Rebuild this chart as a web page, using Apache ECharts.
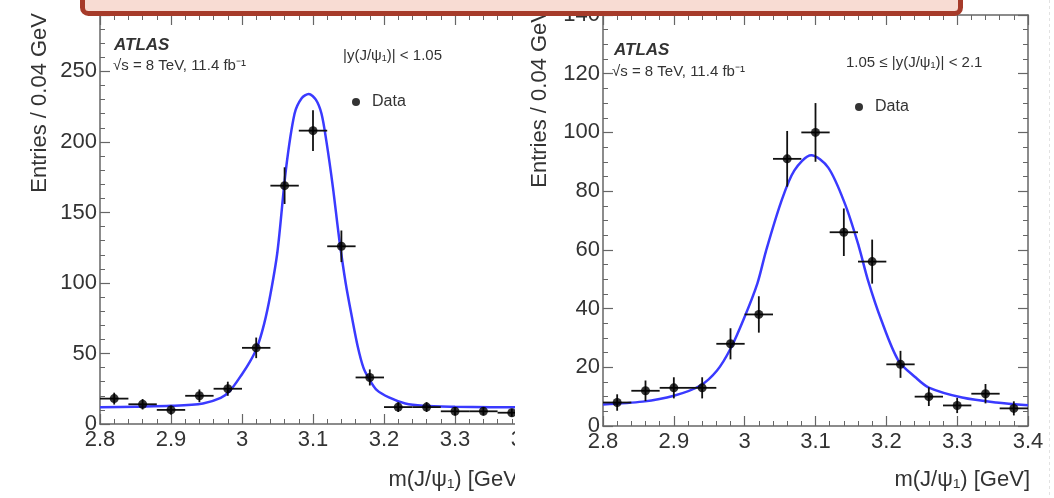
<!DOCTYPE html>
<html>
<head>
<meta charset="utf-8">
<script src="https://cdn.jsdelivr.net/npm/echarts@6/dist/echarts.min.js"></script>
<style>
  html, body { margin: 0; padding: 0; background: #fff; }
  #wrap { position: relative; width: 1054px; height: 498px; overflow: hidden; }
  #leftClip { position: absolute; left: 0; top: 0; width: 515px; height: 498px; overflow: hidden; }
  #leftChart { width: 600px; height: 498px; }
  #rightChart { position: absolute; left: 0; top: 0; width: 1054px; height: 498px; }
</style>
</head>
<body>
<div id="wrap">
  <div id="leftClip"><div id="leftChart"></div></div>
  <div id="rightChart"></div>
</div>
<script>
// bin centres (bin width 0.04 GeV)
const binCenters = [2.82, 2.86, 2.90, 2.94, 2.98, 3.02, 3.06, 3.10, 3.14, 3.18, 3.22, 3.26, 3.30, 3.34, 3.38]
const HALF_BIN = 0.02

// |y| < 1.05
const leftCounts = [18, 14, 10, 20, 25, 54, 169, 208, 126, 33, 12, 12, 9, 9, 8]
const leftErrors = [4.2, 3.7, 3.2, 4.5, 5, 7.3, 13, 14.4, 11.2, 5.7, 3.5, 3.5, 3, 3, 2.8]
const leftFitX = [2.80, 2.85, 2.90, 2.945, 2.97, 2.983, 3.0, 3.011, 3.021, 3.031, 3.040, 3.050, 3.062, 3.074, 3.084, 3.094,
  3.104, 3.112, 3.119, 3.128, 3.137, 3.146, 3.155, 3.163, 3.171, 3.179, 3.19, 3.207, 3.23, 3.255, 3.30, 3.35, 3.40]
const leftFitY = [11.8, 12.3, 12.9, 14.6, 18.5, 23.5, 35.3, 44, 54, 70.6, 91.8, 122.5, 181, 220, 231, 234,
  230, 220, 200, 168, 131, 100, 75.3, 55, 40, 32, 24, 18.8, 14.5, 12.9, 12.2, 11.9, 11.8]

// 1.05 <= |y| < 2.1
const rightCounts = [8, 12, 13, 13, 28, 38, 91, 100, 66, 56, 21, 10, 7, 11, 6]
const rightErrors = [2.8, 3.5, 3.6, 3.6, 5.3, 6.2, 9.5, 10, 8.1, 7.5, 4.6, 3.2, 2.6, 3.3, 2.4]
const rightFitX = [2.80, 2.856, 2.90, 2.937, 2.961, 2.98, 2.999, 3.018, 3.03, 3.051, 3.07, 3.094,
  3.118, 3.142, 3.161, 3.174, 3.193, 3.217, 3.241, 3.26, 3.307, 3.355, 3.40]
const rightFitY = [7.3, 8.3, 10.3, 13.7, 18.9, 26.3, 36.6, 48.6, 59.5, 76, 87, 92.2,
  88, 75.4, 61.3, 49.7, 36, 22.3, 16.6, 13.1, 9.7, 8, 7.1]

const FONT = '"Liberation Sans", Arial, sans-serif'
const FRAME = '#666'
const TEXT = '#333'

function axis(opts) {
  return {
    type: 'value',
    position: opts.position,
    min: opts.min,
    max: opts.max,
    interval: opts.interval,
    axisLine: { show: true, onZero: false, lineStyle: { color: FRAME, width: 1.5 } },
    axisTick: { show: true, inside: true, length: 10, lineStyle: { color: FRAME, width: 1.2 } },
    minorTick: { show: true, splitNumber: opts.minor, length: 5, lineStyle: { color: FRAME, width: 1 } },
    splitLine: { show: false },
    minorSplitLine: { show: false },
    axisLabel: {
      show: !!opts.labels,
      showMaxLabel: opts.showMax !== false,
      hideOverlap: false,
      fontFamily: FONT,
      fontSize: 22,
      color: TEXT,
      margin: opts.margin || 4,
    },
  }
}

function renderError(params, api) {
  const x = api.value(0)
  const y = api.value(1)
  const e = api.value(2)
  const l = api.coord([x - HALF_BIN, y])
  const r = api.coord([x + HALF_BIN, y])
  const b = api.coord([x, y - e])
  const t = api.coord([x, y + e])
  const style = { stroke: '#111', lineWidth: 1.8 }
  return {
    type: 'group',
    children: [
      { type: 'line', shape: { x1: l[0], y1: l[1], x2: r[0], y2: r[1] }, style },
      { type: 'line', shape: { x1: b[0], y1: b[1], x2: t[0], y2: t[1] }, style },
    ],
  }
}

function txt(x, y, text, font, align) {
  return {
    type: 'text',
    x, y,
    style: { text, font, fill: TEXT, textAlign: align || 'left', textVerticalAlign: 'middle' },
    z: 10,
  }
}

function vtxt(x, y, text) {
  return {
    type: 'text',
    x, y,
    rotation: Math.PI / 2,
    style: { text, font: '22px ' + FONT, fill: TEXT, textAlign: 'right', textVerticalAlign: 'middle' },
    z: 10,
  }
}

function buildPanel(p) {
  return {
    animation: false,
    grid: { left: p.grid.left, top: p.grid.top, width: p.grid.width, height: p.grid.height, outerBoundsMode: 'none' },
    legend: {
      data: ['Data'],
      left: p.legendPos[0],
      top: p.legendPos[1],
      icon: 'circle',
      itemWidth: 22,
      itemHeight: 8,
      selectedMode: false,
      textStyle: { fontFamily: FONT, fontSize: 16, color: TEXT },
    },
    xAxis: [
      axis({ position: 'bottom', min: 2.8, max: 3.4, interval: 0.1, minor: 5, labels: true, margin: 5 }),
      axis({ position: 'top', min: 2.8, max: 3.4, interval: 0.1, minor: 5 }),
    ],
    yAxis: [
      axis({ position: 'left', min: 0, max: p.yMax, interval: p.yInterval, minor: p.yMinor, labels: true, showMax: p.yMax % p.yInterval === 0, margin: 3 }),
      axis({ position: 'right', min: 0, max: p.yMax, interval: p.yInterval, minor: p.yMinor }),
    ],
    series: [
      {
        name: 'fit',
        type: 'line',
        data: p.fitX.map((x, i) => [x, p.fitY[i]]),
        showSymbol: false,
        smooth: 0.3,
        silent: true,
        lineStyle: { color: '#3a3aff', width: 2.5 },
        z: 2,
      },
      {
        name: 'errors',
        type: 'custom',
        data: binCenters.map((x, i) => [x, p.counts[i], p.errors[i]]),
        encode: { x: 0, y: 1 },
        renderItem: renderError,
        silent: true,
        z: 3,
      },
      {
        name: 'Data',
        type: 'scatter',
        data: binCenters.map((x, i) => [x, p.counts[i]]),
        symbolSize: 9,
        itemStyle: { color: '#000' },
        silent: true,
        z: 4,
      },
    ],
    graphic: p.graphic,
  }
}

const leftChart = echarts.init(document.getElementById('leftChart'))
leftChart.setOption(buildPanel({
  grid: { left: 100, top: 15, width: 426, height: 409 },
  yMax: 290, yInterval: 50, yMinor: 5,
  counts: leftCounts, errors: leftErrors,
  fitX: leftFitX, fitY: leftFitY,
  legendPos: [347, 89],
  graphic: [
    txt(114, 45, 'ATLAS', 'italic bold 17px ' + FONT),
    txt(113, 66, '√s = 8 TeV, 11.4 fb⁻¹', '15px ' + FONT),
    txt(343, 56, '|y(J/ψ₁)| < 1.05', '15px ' + FONT),
    vtxt(40, 13, 'Entries / 0.04 GeV'),
    txt(524, 480, 'm(J/ψ₁) [GeV]', '22px ' + FONT, 'right'),
  ],
}))

const rightChart = echarts.init(document.getElementById('rightChart'))
rightChart.setOption(buildPanel({
  grid: { left: 603, top: 15, width: 425, height: 411 },
  yMax: 140, yInterval: 20, yMinor: 4,
  counts: rightCounts, errors: rightErrors,
  fitX: rightFitX, fitY: rightFitY,
  legendPos: [850, 94],
  graphic: [
    txt(614, 50, 'ATLAS', 'italic bold 17px ' + FONT),
    txt(612, 72, '√s = 8 TeV, 11.4 fb⁻¹', '15px ' + FONT),
    txt(846, 63, '1.05 ≤ |y(J/ψ₁)| < 2.1', '15px ' + FONT),
    vtxt(540, 8, 'Entries / 0.04 GeV'),
    txt(1030, 480, 'm(J/ψ₁) [GeV]', '22px ' + FONT, 'right'),
    // slide banner across the top
    {
      type: 'rect',
      shape: { x: 82.5, y: -20, width: 878, height: 33.5, r: 6 },
      style: { fill: '#f8dcd3', stroke: '#a63b2a', lineWidth: 5 },
      z: 100,
    },
    {
      type: 'line',
      shape: { x1: 1049.5, y1: 0, x2: 1049.5, y2: 498 },
      style: { stroke: '#e2e2e2', lineWidth: 1, lineDash: [3, 3] },
      z: 1,
    },
  ],
}))
</script>
</body>
</html>
